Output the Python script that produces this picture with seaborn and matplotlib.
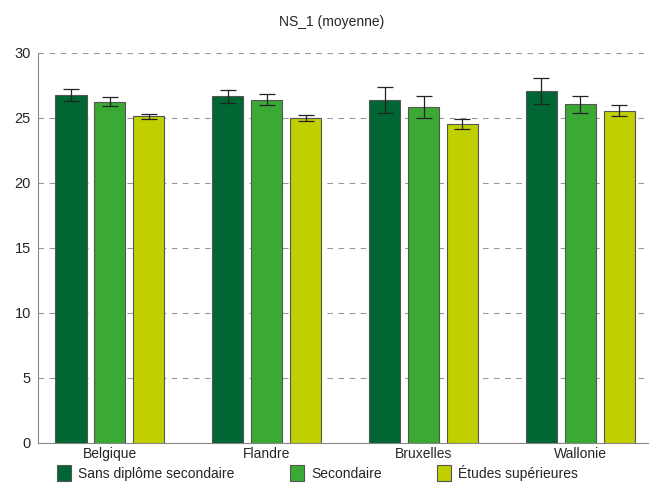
import matplotlib
matplotlib.use("Agg")
import matplotlib.pyplot as plt
import seaborn as sns
import pandas as pd
from matplotlib.patches import Patch

regions = ["Belgique", "Flandre", "Bruxelles", "Wallonie"]
levels = ["Sans diplôme secondaire", "Secondaire", "Études supérieures"]
means_sans = [26.75, 26.65, 26.35, 27.05]
means_sec = [26.25, 26.40, 25.80, 26.05]
means_sup = [25.10, 25.00, 24.50, 25.55]
err_sans = [0.48, 0.48, 1.02, 1.00]
err_sec = [0.32, 0.40, 0.85, 0.65]
err_sup = [0.20, 0.25, 0.38, 0.45]
colors = ["#006633", "#3aaa35", "#c0cf00"]

rows = []
for lvl, m in zip(levels, [means_sans, means_sec, means_sup]):
    for r, v in zip(regions, m):
        rows.append({"region": r, "niveau": lvl, "valeur": v})
df = pd.DataFrame(rows)

sns.set_theme(style="white")
plt.rcParams["font.family"] = ["Liberation Sans", "DejaVu Sans"]

fig = plt.figure(figsize=(6.51, 4.84), dpi=100)
ax = fig.add_axes([0.058, 0.085, 0.937, 0.806])

sns.barplot(data=df, x="region", y="valeur", hue="niveau", order=regions,
            hue_order=levels, palette=colors, saturation=1, width=0.745, gap=0.2,
            errorbar=None, edgecolor="#555555", linewidth=0.8, ax=ax,
            legend=False, zorder=3)

for cont, errs in zip(ax.containers, [err_sans, err_sec, err_sup]):
    xs = [b.get_x() + b.get_width() / 2 for b in cont]
    hs = [b.get_height() for b in cont]
    ax.errorbar(xs, hs, yerr=errs, fmt="none", ecolor="#222222",
                elinewidth=0.9, capsize=6, capthick=0.9, zorder=4)

ax.set_ylim(0, 30)
ax.set_xlim(-0.46, 3.43)
ax.set_yticks(range(0, 31, 5))
ax.set_xlabel("")
ax.set_ylabel("")
for y in range(5, 31, 5):
    ax.axhline(y, color="#999999", linestyle=(0, (5, 5)), linewidth=0.8, zorder=1)

for s in ["top", "right"]:
    ax.spines[s].set_visible(False)
for s in ["left", "bottom"]:
    ax.spines[s].set_color("#888888")
    ax.spines[s].set_linewidth(0.8)
ax.tick_params(axis="y", length=3, width=0.8, color="#888888", labelsize=10.5, pad=2)
ax.tick_params(axis="x", length=0, labelsize=10, pad=3)

fig.text(0.51, 0.955, "NS_1 (moyenne)", ha="center", va="center", fontsize=10)

handles = [Patch(facecolor=c, edgecolor="#555555", linewidth=0.8) for c in colors]
fig.legend(handles, levels, loc="center", bbox_to_anchor=(0.488, 0.023), ncol=3,
           frameon=False, fontsize=10, handlelength=1.0, handleheight=1.4,
           handletextpad=0.5, columnspacing=4.0, borderaxespad=0)

fig.savefig("out.png", dpi=100)
